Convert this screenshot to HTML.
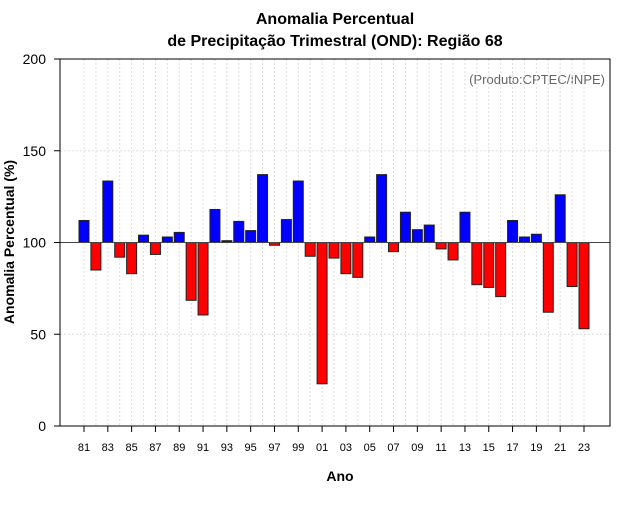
<!DOCTYPE html>
<html><head><meta charset="utf-8"><style>
body{margin:0;background:#fff;font-family:"Liberation Sans",sans-serif;}
</style></head><body>
<svg id="c" width="640" height="500" xmlns="http://www.w3.org/2000/svg">
<text x="335" y="24" text-anchor="middle" font-size="16" font-weight="bold">Anomalia Percentual</text>
<text x="335" y="46" text-anchor="middle" font-size="16" font-weight="bold">de Precipitação Trimestral (OND): Região 68</text>
<text x="605" y="84" text-anchor="end" font-size="13" fill="#666">(Produto:CPTEC/INPE)</text>
<text x="340" y="481" text-anchor="middle" font-size="14" font-weight="bold">Ano</text>
<text transform="translate(14,242) rotate(-90)" text-anchor="middle" font-size="14" font-weight="bold">Anomalia Percentual (%)</text>
<g id="grid"></g><g id="bars"></g><g id="axes"></g>
</svg>
<script>
const years=[1981,1982,1983,1984,1985,1986,1987,1988,1989,1990,1991,1992,1993,1994,1995,1996,1997,1998,1999,2000,2001,2002,2003,2004,2005,2006,2007,2008,2009,2010,2011,2012,2013,2014,2015,2016,2017,2018,2019,2020,2021,2022,2023];
const values=[112,85,133.5,92,83,104,93.5,103,105.5,68.5,60.5,118,101,111.5,106.5,137,98.5,112.5,133.5,92.5,23,91.5,83,81,103,137,95,116.5,107,109.5,96.5,90.5,116.5,77,75.5,70.5,112,103,104.5,62,126,76,53];
const yTicks=[0,50,100,150,200];
const NS="http://www.w3.org/2000/svg";
const L=60,R=610,T=59,B=426;
const x=yr=>84+(yr-1981)*(500/42);
const y=v=>B-(v/200)*(B-T);
function mk(tag,a,p){const e=document.createElementNS(NS,tag);for(const k in a)e.setAttribute(k,a[k]);p.appendChild(e);return e;}
const grid=document.getElementById('grid'),bars=document.getElementById('bars'),axes=document.getElementById('axes');
years.forEach(yr=>{const g=mk('line',{x1:x(yr),x2:x(yr),y1:T,y2:B,stroke:'#ddd','stroke-dasharray':'2,2'},grid);

});
[50,100,150].forEach(v=>{const g=mk('line',{x1:L,x2:R,y1:y(v),y2:y(v),stroke:'#ddd','stroke-dasharray':'2,2'},grid);

});
years.forEach((yr,i)=>{const v=values[i];const top=Math.min(y(v),y(100)),h=Math.abs(y(v)-y(100));
const r=mk('rect',{x:x(yr)-5,y:top,width:10,height:Math.max(h,0.5),fill:v>=100?'#0000ff':'#ff0000',stroke:'#222','stroke-width':1},bars);

});
const base=mk('line',{x1:L,x2:R,y1:y(100),y2:y(100),stroke:'#444','stroke-width':1},axes);


const fr=mk('rect',{x:L,y:T,width:R-L,height:B-T,fill:'none',stroke:'#000'},axes);


yTicks.forEach(v=>{const t=mk('line',{x1:L-6,x2:L,y1:y(v),y2:y(v),stroke:'#000'},axes);


const tx=mk('text',{x:L-14,y:y(v)+5,'text-anchor':'end','font-size':14},axes);tx.textContent=v;

});
years.forEach((yr,i)=>{if(i%2)return;
const t=mk('line',{x1:x(yr),x2:x(yr),y1:B,y2:B+6,stroke:'#000'},axes);


const tx=mk('text',{x:x(yr),y:B+25,'text-anchor':'middle','font-size':11},axes);tx.textContent=String(yr%100).padStart(2,'0');

});
</script>
</body></html>
